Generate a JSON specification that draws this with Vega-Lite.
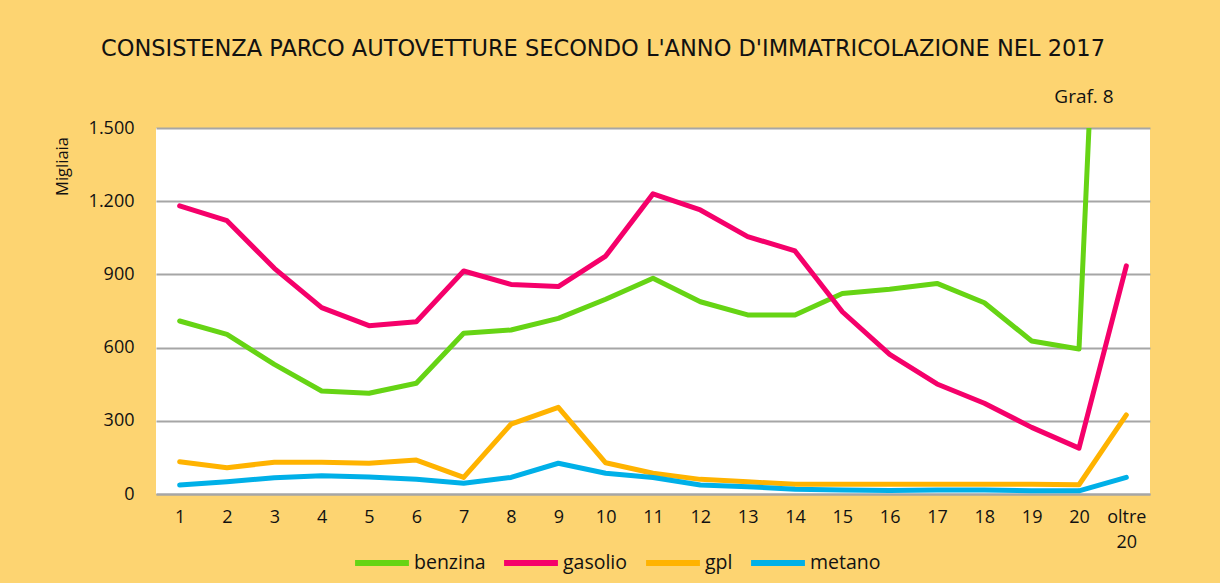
{
  "$schema": "https://vega.github.io/schema/vega-lite/v6.json",
  "width": 994,
  "height": 366,
  "autosize": {"type": "none"},
  "padding": {"left": 156, "top": 128, "right": 70, "bottom": 89},
  "background": "#FDD471",
  "title": {
    "text": "CONSISTENZA PARCO AUTOVETTURE SECONDO L'ANNO D'IMMATRICOLAZIONE NEL 2017",
    "font": "DejaVu Sans",
    "fontSize": 22.5,
    "fontWeight": "normal",
    "color": "#111111",
    "anchor": "middle",
    "dx": -50,
    "offset": 72,
    "dy": 44
  },
  "config": {
    "view": {"fill": "white", "stroke": null},
    "font": "Open Sans",
    "axis": {
      "labelFont": "Open Sans",
      "labelColor": "#111111",
      "labelFontSize": 18,
      "gridColor": "#A6A6A6",
      "gridWidth": 2,
      "gridOpacity": 1,
      "tickSize": 0,
      "domainColor": "#A6A6A6",
      "domainWidth": 2
    }
  },
  "layer": [
    {
      "data": {
        "values": [
          {"anno": "1", "tipo": "benzina", "valore": 709},
          {"anno": "2", "tipo": "benzina", "valore": 654},
          {"anno": "3", "tipo": "benzina", "valore": 531},
          {"anno": "4", "tipo": "benzina", "valore": 422},
          {"anno": "5", "tipo": "benzina", "valore": 413},
          {"anno": "6", "tipo": "benzina", "valore": 454},
          {"anno": "7", "tipo": "benzina", "valore": 659},
          {"anno": "8", "tipo": "benzina", "valore": 672},
          {"anno": "9", "tipo": "benzina", "valore": 720},
          {"anno": "10", "tipo": "benzina", "valore": 798},
          {"anno": "11", "tipo": "benzina", "valore": 884},
          {"anno": "12", "tipo": "benzina", "valore": 788},
          {"anno": "13", "tipo": "benzina", "valore": 734},
          {"anno": "14", "tipo": "benzina", "valore": 734},
          {"anno": "15", "tipo": "benzina", "valore": 822},
          {"anno": "16", "tipo": "benzina", "valore": 839},
          {"anno": "17", "tipo": "benzina", "valore": 863},
          {"anno": "18", "tipo": "benzina", "valore": 784},
          {"anno": "19", "tipo": "benzina", "valore": 627},
          {"anno": "20", "tipo": "benzina", "valore": 594},
          {"anno": "oltre 20", "tipo": "benzina", "valore": 4900},
          {"anno": "1", "tipo": "gasolio", "valore": 1181},
          {"anno": "2", "tipo": "gasolio", "valore": 1120},
          {"anno": "3", "tipo": "gasolio", "valore": 925},
          {"anno": "4", "tipo": "gasolio", "valore": 764},
          {"anno": "5", "tipo": "gasolio", "valore": 690},
          {"anno": "6", "tipo": "gasolio", "valore": 706},
          {"anno": "7", "tipo": "gasolio", "valore": 914},
          {"anno": "8", "tipo": "gasolio", "valore": 859},
          {"anno": "9", "tipo": "gasolio", "valore": 850},
          {"anno": "10", "tipo": "gasolio", "valore": 975},
          {"anno": "11", "tipo": "gasolio", "valore": 1230},
          {"anno": "12", "tipo": "gasolio", "valore": 1164},
          {"anno": "13", "tipo": "gasolio", "valore": 1055},
          {"anno": "14", "tipo": "gasolio", "valore": 996},
          {"anno": "15", "tipo": "gasolio", "valore": 747},
          {"anno": "16", "tipo": "gasolio", "valore": 572},
          {"anno": "17", "tipo": "gasolio", "valore": 451},
          {"anno": "18", "tipo": "gasolio", "valore": 372},
          {"anno": "19", "tipo": "gasolio", "valore": 273},
          {"anno": "20", "tipo": "gasolio", "valore": 188},
          {"anno": "oltre 20", "tipo": "gasolio", "valore": 935},
          {"anno": "1", "tipo": "gpl", "valore": 132},
          {"anno": "2", "tipo": "gpl", "valore": 108},
          {"anno": "3", "tipo": "gpl", "valore": 130},
          {"anno": "4", "tipo": "gpl", "valore": 130},
          {"anno": "5", "tipo": "gpl", "valore": 126},
          {"anno": "6", "tipo": "gpl", "valore": 139},
          {"anno": "7", "tipo": "gpl", "valore": 68},
          {"anno": "8", "tipo": "gpl", "valore": 286},
          {"anno": "9", "tipo": "gpl", "valore": 355},
          {"anno": "10", "tipo": "gpl", "valore": 128},
          {"anno": "11", "tipo": "gpl", "valore": 85},
          {"anno": "12", "tipo": "gpl", "valore": 60},
          {"anno": "13", "tipo": "gpl", "valore": 50},
          {"anno": "14", "tipo": "gpl", "valore": 40},
          {"anno": "15", "tipo": "gpl", "valore": 40},
          {"anno": "16", "tipo": "gpl", "valore": 40},
          {"anno": "17", "tipo": "gpl", "valore": 40},
          {"anno": "18", "tipo": "gpl", "valore": 40},
          {"anno": "19", "tipo": "gpl", "valore": 40},
          {"anno": "20", "tipo": "gpl", "valore": 38},
          {"anno": "oltre 20", "tipo": "gpl", "valore": 324},
          {"anno": "1", "tipo": "metano", "valore": 37},
          {"anno": "2", "tipo": "metano", "valore": 50},
          {"anno": "3", "tipo": "metano", "valore": 67},
          {"anno": "4", "tipo": "metano", "valore": 75},
          {"anno": "5", "tipo": "metano", "valore": 70},
          {"anno": "6", "tipo": "metano", "valore": 60},
          {"anno": "7", "tipo": "metano", "valore": 44},
          {"anno": "8", "tipo": "metano", "valore": 68},
          {"anno": "9", "tipo": "metano", "valore": 126},
          {"anno": "10", "tipo": "metano", "valore": 85},
          {"anno": "11", "tipo": "metano", "valore": 68},
          {"anno": "12", "tipo": "metano", "valore": 37},
          {"anno": "13", "tipo": "metano", "valore": 30},
          {"anno": "14", "tipo": "metano", "valore": 19},
          {"anno": "15", "tipo": "metano", "valore": 16},
          {"anno": "16", "tipo": "metano", "valore": 14},
          {"anno": "17", "tipo": "metano", "valore": 16},
          {"anno": "18", "tipo": "metano", "valore": 16},
          {"anno": "19", "tipo": "metano", "valore": 13},
          {"anno": "20", "tipo": "metano", "valore": 13},
          {"anno": "oltre 20", "tipo": "metano", "valore": 68}
        ]
      },
      "mark": {"type": "line", "strokeWidth": 5, "strokeCap": "round", "strokeJoin": "round", "clip": true},
      "encoding": {
        "x": {
          "field": "anno",
          "type": "ordinal",
          "sort": null,
          "scale": {"type": "point", "padding": 0.5},
          "axis": {
            "title": null,
            "grid": false,
            "labelAngle": 0,
            "labelPadding": 14,
            "labelLineHeight": 25,
            "labelExpr": "datum.label == 'oltre 20' ? ['oltre', '20'] : datum.label"
          }
        },
        "y": {
          "field": "valore",
          "type": "quantitative",
          "scale": {"domain": [0, 1500], "nice": false},
          "axis": {
            "values": [0, 300, 600, 900, 1200, 1500],
            "domain": false,
            "labelPadding": 22,
            "labelExpr": "replace(format(datum.value, ','), ',', '.')",
            "title": "Migliaia",
            "titleFont": "Open Sans",
            "titleFontSize": 16.5,
            "titleFontWeight": "normal",
            "titleColor": "#111111",
            "titleAngle": -90,
            "titleAlign": "center",
            "titleBaseline": "middle",
            "titleX": -94,
            "titleY": 38
          }
        },
        "color": {
          "field": "tipo",
          "type": "nominal",
          "scale": {
            "domain": ["benzina", "gasolio", "gpl", "metano"],
            "range": ["#66D414", "#F5006A", "#FFB300", "#00B0E8"]
          },
          "legend": {
            "title": null,
            "orient": "none",
            "direction": "horizontal",
            "legendX": 196,
            "legendY": 405,
            "symbolType": "stroke",
            "symbolSize": 2900,
            "symbolStrokeWidth": 6,
            "labelFont": "Open Sans",
            "labelFontSize": 19.5,
            "labelColor": "#111111",
            "labelOffset": 2,
            "columnPadding": 6
          }
        }
      }
    },
    {
      "data": {"values": [{"testo": "Graf. 8"}]},
      "mark": {"type": "text", "font": "Open Sans", "fontSize": 19, "color": "#111111", "align": "center", "baseline": "middle", "dy": -31, "dx": 5},
      "encoding": {
        "x": {"datum": "20"},
        "y": {"datum": 1500},
        "text": {"field": "testo"}
      }
    }
  ]
}
